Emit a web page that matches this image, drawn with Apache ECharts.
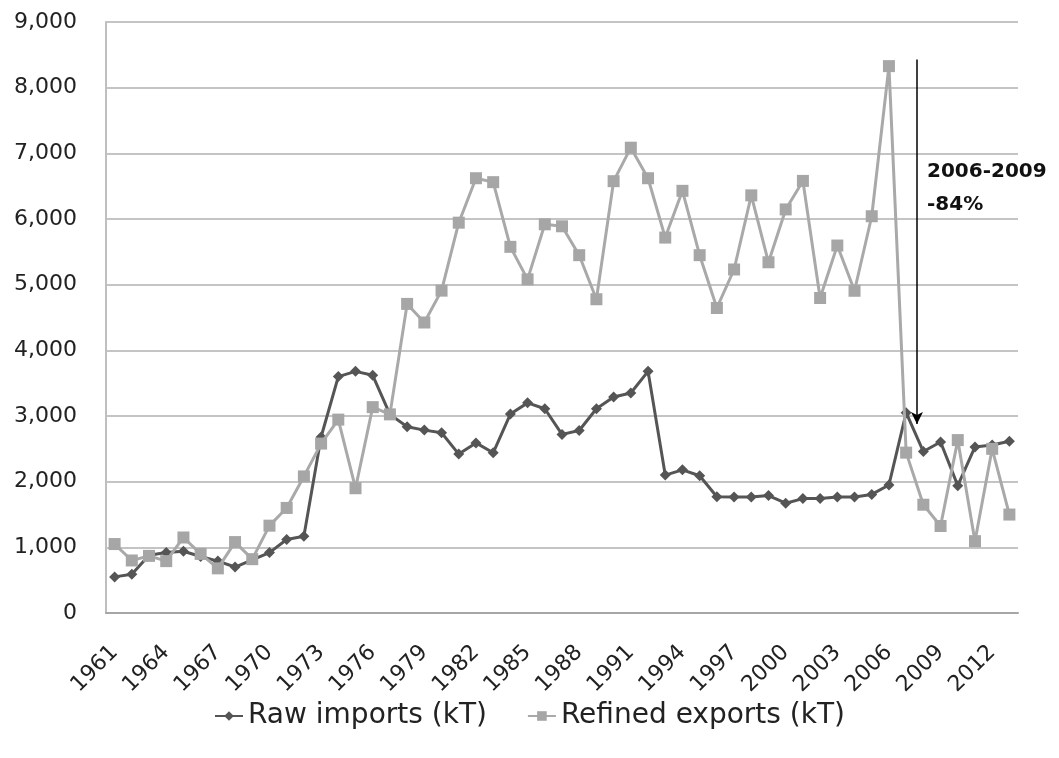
<!DOCTYPE html>
<html>
<head>
<meta charset="utf-8">
<script src="https://cdn.jsdelivr.net/npm/echarts@6/dist/echarts.min.js"></script>
<style>
html,body{margin:0;padding:0;background:#fff;}
#chart{width:1059px;height:758px;}
</style>
</head>
<body>
<div id="chart"></div>
<script>
const years = [];
for (let y = 1961; y <= 2013; y++) years.push(String(y));

const rawImports = [
  550, 590, 880, 920, 940, 860, 790, 700, 810, 920,
  1120, 1170, 2680, 3600, 3680, 3620, 3025, 2835, 2785, 2745,
  2420, 2590, 2440, 3030, 3200, 3110, 2720, 2780, 3110, 3290,
  3350, 3680, 2100, 2180, 2090, 1770, 1765, 1765, 1788, 1672,
  1742, 1742, 1765, 1765, 1806, 1950, 3050, 2459, 2604, 1939,
  2529, 2558, 2616
];
const refinedExports = [
  1050, 800, 870, 790, 1150, 900, 680, 1080, 820, 1330,
  1600, 2080, 2580, 2945, 1900, 3135, 3025, 4707, 4424, 4909,
  5944, 6621, 6561, 5576, 5081, 5919, 5889, 5449, 4778, 6576,
  7086, 6621, 5717, 6429, 5449, 4645, 5231, 6360, 5341, 6146,
  6580, 4797, 5596, 4907, 6042, 8328, 2442, 1649, 1325, 2633,
  1094, 2500, 1499
];
const seriesNames = ['Raw imports (kT)', 'Refined exports (kT)'];
const yTicks = { min: 0, max: 9000, interval: 1000 };
// annotation arrow (year position on a continuous year scale, values in kT)
const arrowYear = 2007.63;
const arrowTop = 8430;
const arrowBottom = 2880;
const annotationLines = ['2006-2009', '-84%'];

const chart = echarts.init(document.getElementById('chart'), null, { renderer: 'canvas' });
const FONT = 'DejaVu Sans';

chart.setOption({
  animation: false,
  backgroundColor: '#ffffff',
  textStyle: { fontFamily: FONT },
  grid: { left: 106, right: 41, top: 22, bottom: 145, containLabel: false },
  xAxis: [
    {
      type: 'category',
      data: years,
      boundaryGap: true,
      axisLine: { show: true, lineStyle: { color: '#a6a6a6', width: 2 } },
      axisTick: { show: false },
      axisLabel: {
        interval: 2,
        rotate: 45,
        margin: 36,
        color: '#222',
        fontSize: 22,
        fontFamily: FONT
      },
      splitLine: { show: false }
    },
    {
      type: 'value',
      min: 1960.5,
      max: 2013.5,
      show: false
    }
  ],
  yAxis: {
    type: 'value',
    min: yTicks.min,
    max: yTicks.max,
    interval: yTicks.interval,
    axisLine: { show: true, lineStyle: { color: '#bfbfbf', width: 2 } },
    axisTick: { show: false },
    axisLabel: {
      margin: 29,
      color: '#222',
      fontSize: 22,
      fontFamily: FONT,
      formatter: v => v.toLocaleString('en-US')
    },
    splitLine: { show: true, lineStyle: { color: '#c4c4c4', width: 2 } }
  },
  legend: {
    data: seriesNames,
    left: 'center',
    top: 697,
    itemWidth: 28,
    itemHeight: 12,
    itemGap: 40,
    textStyle: { fontSize: 28, color: '#222', fontFamily: FONT }
  },
  series: [
    {
      name: seriesNames[0],
      type: 'line',
      data: rawImports,
      symbol: 'diamond',
      symbolSize: 11,
      showAllSymbol: true,
      lineStyle: { color: '#555555', width: 3 },
      itemStyle: { color: '#555555' },
      z: 2
    },
    {
      name: seriesNames[1],
      type: 'line',
      data: refinedExports,
      symbol: 'rect',
      symbolSize: 12,
      showAllSymbol: true,
      lineStyle: { color: '#a9a9a9', width: 3 },
      itemStyle: { color: '#a6a6a6' },
      z: 3
    },
    {
      name: 'annotation',
      type: 'line',
      xAxisIndex: 1,
      data: [],
      symbol: 'none',
      silent: true,
      markLine: {
        silent: true,
        symbol: ['none', 'arrow'],
        symbolSize: [9, 12],
        label: { show: false },
        lineStyle: { color: '#000000', width: 1.5, type: 'solid' },
        data: [[
          { coord: [arrowYear, arrowTop] },
          { coord: [arrowYear, arrowBottom] }
        ]]
      },
      z: 5
    }
  ],
  graphic: [
    {
      type: 'text',
      left: 927,
      top: 155,
      style: {
        text: annotationLines.join('\n'),
        font: 'bold 20px "DejaVu Sans"',
        lineHeight: 33,
        fill: '#111'
      }
    }
  ]
});
</script>
</body>
</html>
